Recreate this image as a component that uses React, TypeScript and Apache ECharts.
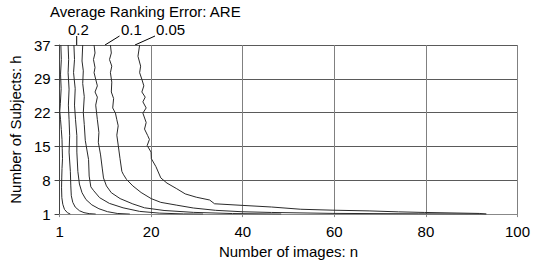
import React, { useEffect, useRef } from "react";
import * as echarts from "echarts";

// x tick labels (equally spaced ticks) and y tick labels (equally spaced ticks)
const xTickLabels = ["1", "20", "40", "60", "80", "100"];
const yTickLabels = ["1", "8", "15", "22", "29", "37"];

// Contour lines of ARE: n positions and h values
const line1N = [0.28, 0.38, 0.21, 0.34, 0.17, 0.04, 0.21, 0.38, 0.53, 0.58, 0.64, 0.53, 0.47, 0.43, 0.49, 0.7, 1.07, 1.71, 2.35];
const line1H = [37, 33.9, 30.8, 27.7, 24.6, 22.9, 21.1, 19.0, 16.9, 14.9, 12.8, 10.7, 8.7, 6.6, 4.5, 3.1, 2.0, 1.3, 1.0];

const line2N = [1.86, 1.98, 1.86, 2.07, 1.92, 2.07, 2.2, 2.07, 2.35, 2.45, 2.56, 2.88, 3.41, 4.33, 5.33, 6.46, 7.89];
const line2H = [37, 33.9, 31.1, 27.6, 24.2, 21.1, 17.7, 14.2, 10.1, 7.0, 4.9, 3.5, 2.5, 1.72, 1.31, 1.1, 1.0];

const line3N = [3.13, 3.26, 3.05, 3.41, 3.26, 3.48, 3.77, 3.77, 3.99, 4.33, 4.9, 5.76, 7.04, 8.59, 10.45, 12.58, 15.35];
const line3H = [37, 33.9, 31.1, 27.7, 24.2, 21.1, 17.7, 14.2, 10.1, 7.4, 5.55, 4.1, 2.97, 2.14, 1.52, 1.14, 1.0];

// ARE = 0.2
const line4N = [5.05, 4.9, 5.18, 5.05, 5.39, 5.18, 5.39, 5.61, 6.33, 6.46, 6.82, 7.46, 8.74, 10.87, 13.86, 17.48, 21.75, 27.08, 31.34];
const line4H = [37, 33.6, 31.5, 28.8, 26.0, 22.6, 20.1, 16.7, 12.6, 9.1, 6.8, 5.97, 4.5, 3.28, 2.34, 1.58, 1.21, 1.04, 1.0];

const line5N = [7.53, 7.74, 7.4, 7.74, 7.53, 7.89, 8.25, 7.74, 8.25, 7.89, 8.25, 8.59, 8.46, 8.95, 9.31, 9.59, 10.23, 11.3, 13.22, 15.99, 18.55, 22.81, 29.21, 37.74, 48.4];
const line5H = [37, 35.3, 33.9, 32.2, 31.1, 29.7, 28.3, 27.0, 25.9, 24.2, 21.1, 18.4, 16.3, 13.6, 10.8, 8.7, 7.0, 5.55, 4.3, 3.17, 2.34, 1.77, 1.37, 1.12, 1.0];

// ARE = 0.1
const line6N = [11.1, 11.3, 10.9, 11.4, 11.1, 11.4, 11.3, 11.8, 11.6, 12.2, 12.5, 12.8, 12.5, 12.8, 13.2, 13.6, 13.9, 14.6, 16.0, 17.8, 20.0, 22.1, 25.6, 29.2, 34.1, 39.9, 46.3, 59.7, 78.3, 93.2];
const line6H = [37, 35.3, 33.9, 32.5, 31.1, 29.1, 27.0, 25.6, 23.6, 22.5, 21.1, 19.8, 17.8, 15.7, 12.8, 10.1, 9.5, 8.4, 7.0, 5.6, 4.3, 3.5, 2.9, 2.3, 1.8, 1.5, 1.35, 1.15, 1.06, 1.0];

// ARE = 0.05
const line7N = [17.48, 17.12, 17.7, 17.48, 17.97, 18.4, 17.97, 18.7, 18.19, 18.91, 18.19, 18.91, 18.55, 19.25, 19.62, 19.13, 19.98, 20.04, 21.04, 22.11, 23.45, 25.59, 27.44, 29.85, 32.77, 33.84, 39.87, 46.27, 52.67, 59.7, 67.59, 73.99, 79.74, 91.68, 93.18];
const line7H = [37, 34.6, 32.5, 31.1, 29.7, 28.3, 27.0, 25.9, 24.9, 23.6, 22.5, 20.5, 19.1, 17.7, 16.9, 15.6, 14.2, 12.8, 11.1, 8.7, 7.6, 6.4, 5.3, 4.6, 4.0, 3.2, 2.86, 2.51, 2.03, 1.83, 1.68, 1.48, 1.35, 1.14, 1.0];

const contours = [
  [line1N, line1H],
  [line2N, line2H],
  [line3N, line3H],
  [line4N, line4H],
  [line5N, line5H],
  [line6N, line6H],
  [line7N, line7H],
];

const FONT = "'Liberation Sans', Arial, sans-serif";
const FS = 15;

export default function App() {
  const ref = useRef<HTMLDivElement>(null);
  useEffect(() => {
    if (!ref.current) return;
    const chart = echarts.init(ref.current, undefined, { renderer: "svg" });
    const series = contours.map(([ns, hs]) => ({
      type: "line",
      data: ns.map((n, i) => [n, hs[i] - 1]),
      showSymbol: false,
      symbol: "none",
      lineStyle: { color: "#2a2a2a", width: 1 },
      silent: true,
    }));
    chart.setOption({
      animation: false,
      backgroundColor: "#ffffff",
      grid: { left: 53, right: 11, top: 45, bottom: 45 },
      xAxis: {
        type: "value",
        min: 0,
        max: 100,
        interval: 20,
        name: "Number of images: n",
        nameLocation: "middle",
        nameGap: 25,
        nameTextStyle: { fontFamily: FONT, fontSize: FS, color: "#000" },
        axisLine: { show: true, lineStyle: { color: "#888", width: 1 } },
        axisTick: { show: true, length: 3, lineStyle: { color: "#888" } },
        axisLabel: {
          fontFamily: FONT,
          fontSize: FS,
          color: "#000",
          margin: 10,
          formatter: (v: number) => xTickLabels[Math.round(v / 20)] ?? "",
        },
        splitLine: { show: true, lineStyle: { color: "#808080", width: 1 } },
      },
      yAxis: {
        type: "value",
        min: 0,
        max: 36,
        interval: 7.2,
        name: "Number of Subjects: h",
        nameLocation: "middle",
        nameRotate: 90,
        nameGap: 33,
        nameTextStyle: { fontFamily: FONT, fontSize: FS, color: "#000" },
        axisLine: { show: true, lineStyle: { color: "#444", width: 1 } },
        axisTick: { show: true, length: 5, lineStyle: { color: "#444" } },
        axisLabel: {
          fontFamily: FONT,
          fontSize: FS,
          color: "#000",
          margin: 9,
          formatter: (v: number) => yTickLabels[Math.round(v / 7.2)] ?? "",
        },
        splitLine: { show: true, lineStyle: { color: "#5a5a5a", width: 1 } },
      },
      series,
      graphic: [
        {
          type: "text",
          left: 50,
          top: 4,
          style: { text: "Average Ranking Error: ARE", font: `${FS}px ${FONT}`, fill: "#000" },
        },
        {
          type: "text",
          left: 68,
          top: 22,
          style: { text: "0.2", font: `${FS}px ${FONT}`, fill: "#000" },
        },
        {
          type: "text",
          left: 121,
          top: 22,
          style: { text: "0.1", font: `${FS}px ${FONT}`, fill: "#000" },
        },
        {
          type: "text",
          left: 156,
          top: 22,
          style: { text: "0.05", font: `${FS}px ${FONT}`, fill: "#000" },
        },
        {
          type: "line",
          shape: { x1: 76.7, y1: 36, x2: 76.7, y2: 45 },
          style: { stroke: "#000", lineWidth: 1 },
        },
        {
          type: "line",
          shape: { x1: 119.5, y1: 36, x2: 105, y2: 45 },
          style: { stroke: "#000", lineWidth: 1 },
        },
        {
          type: "line",
          shape: { x1: 155, y1: 36, x2: 135, y2: 45 },
          style: { stroke: "#000", lineWidth: 1 },
        },
      ],
    });
    return () => chart.dispose();
  }, []);
  return (
    <div
      ref={ref}
      style={{ position: "fixed", left: 0, top: 0, width: 533, height: 264 }}
    />
  );
}
